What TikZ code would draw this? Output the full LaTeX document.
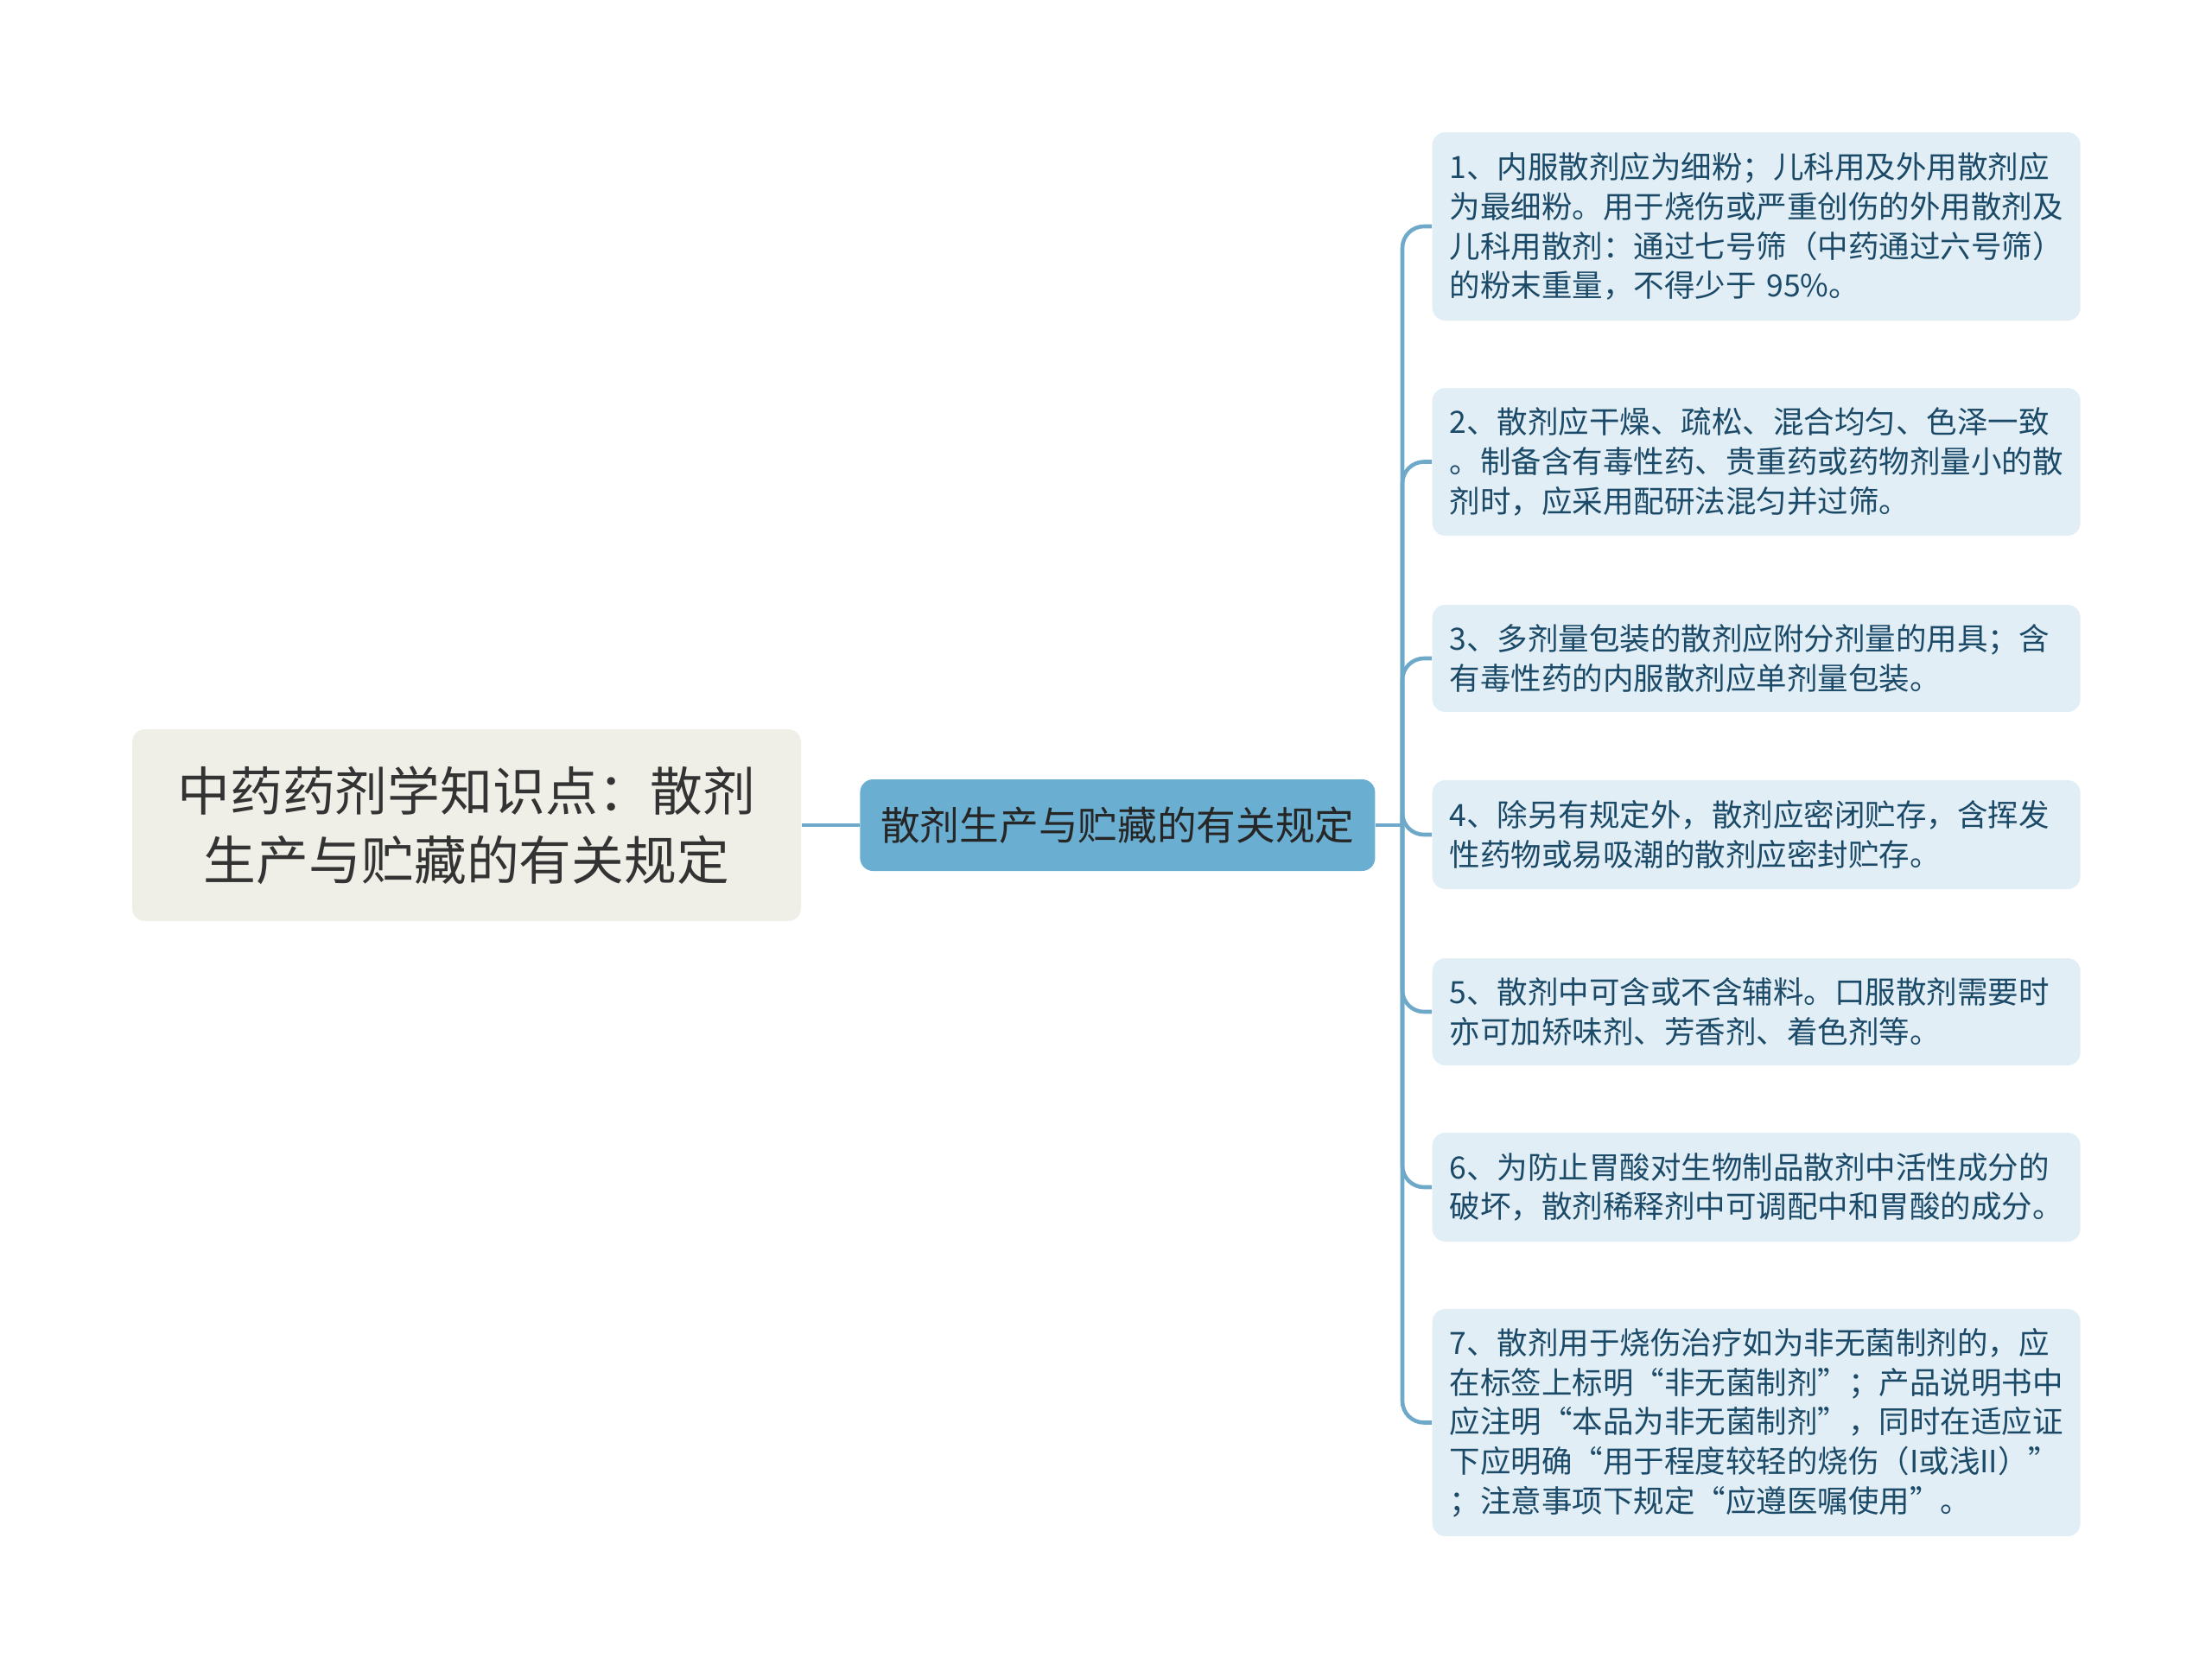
\documentclass[tikz,border=0pt]{standalone}
\usepackage{fontspec}
\setmainfont{Noto Sans CJK SC}
\usetikzlibrary{positioning}
\definecolor{rootfill}{HTML}{EFEFE7}
\definecolor{topicfill}{HTML}{6AAED1}
\definecolor{rulefill}{HTML}{E2EEF5}
\definecolor{linkblue}{HTML}{6EA9CA}
\definecolor{ruletext}{HTML}{1B4A68}
\begin{document}
\begin{tikzpicture}[
    rootbox/.style={fill=rootfill, rounded corners=0.15cm, text=black!80, align=center,
        font=\fontsize{17.3}{22.8}\selectfont, minimum width=7.74cm, minimum height=2.22cm},
    topicbox/.style={fill=topicfill, rounded corners=0.15cm, text=black!85,
        font=\fontsize{13}{16}\selectfont, minimum width=5.96cm, minimum height=1.06cm},
    rulebox/.style={fill=rulefill, rounded corners=0.15cm, text=ruletext, align=left,
        text width=7.1cm, inner xsep=0.2cm, inner ysep=0pt, anchor=west,
        font=\fontsize{10.1}{13}\selectfont},
    link/.style={draw=linkblue, line width=1.3pt}]
    \useasboundingbox (0,0) rectangle (25.6,-19.33);
    % Root and topic
    \node [rootbox] (root) at (5.40,-9.55) {中药药剂学知识点：散剂\\生产与贮藏的有关规定};
    \node [topicbox, right=0.67cm of root] (topic) {散剂生产与贮藏的有关规定};
    % Rules
    \node [rulebox, minimum height=2.18cm] (rule1) at (16.57,-2.62)
        {1、内服散剂应为细粉；儿科用及外用散剂应\\为最细粉。用于烧伤或严重创伤的外用散剂及\\儿科用散剂：通过七号筛（中药通过六号筛）\\的粉末重量，不得少于 95\%。};
    \node [rulebox, minimum height=1.71cm] (rule2) at (16.57,-5.345)
        {2、散剂应干燥、疏松、混合均匀、色泽一致\\。制备含有毒性药、贵重药或药物剂量小的散\\剂时，应采用配研法混匀并过筛。};
    \node [rulebox, minimum height=1.24cm] (rule3) at (16.57,-7.62)
        {3、多剂量包装的散剂应附分剂量的用具；含\\有毒性药的内服散剂应单剂量包装。};
    \node [rulebox, minimum height=1.26cm] (rule4) at (16.57,-9.66)
        {4、除另有规定外，散剂应密闭贮存，含挥发\\性药物或易吸潮的散剂应密封贮存。};
    \node [rulebox, minimum height=1.24cm] (rule5) at (16.57,-11.71)
        {5、散剂中可含或不含辅料。口服散剂需要时\\亦可加矫味剂、芳香剂、着色剂等。};
    \node [rulebox, minimum height=1.26cm] (rule6) at (16.57,-13.74)
        {6、为防止胃酸对生物制品散剂中活性成分的\\破坏，散剂稀释剂中可调配中和胃酸的成分。};
    \node [rulebox, minimum height=2.63cm] (rule7) at (16.57,-16.465)
        {7、散剂用于烧伤治疗如为非无菌制剂的，应\\在标签上标明“非无菌制剂”；产品说明书中\\应注明“本品为非无菌制剂”，同时在适应证\\下应明确“用于程度较轻的烧伤（I或浅II）”\\；注意事项下规定“应遵医嘱使用”。};
    % Connectors
    \coordinate (fork) at (16.23,-9.55);
    \draw [link] (root) -- (topic);
    \draw [link] (topic.east) -- (fork);
    \foreach \n in {1,...,7}
        \draw [link, rounded corners=0.25cm] (fork) |- (rule\n.west);
\end{tikzpicture}
\end{document}
